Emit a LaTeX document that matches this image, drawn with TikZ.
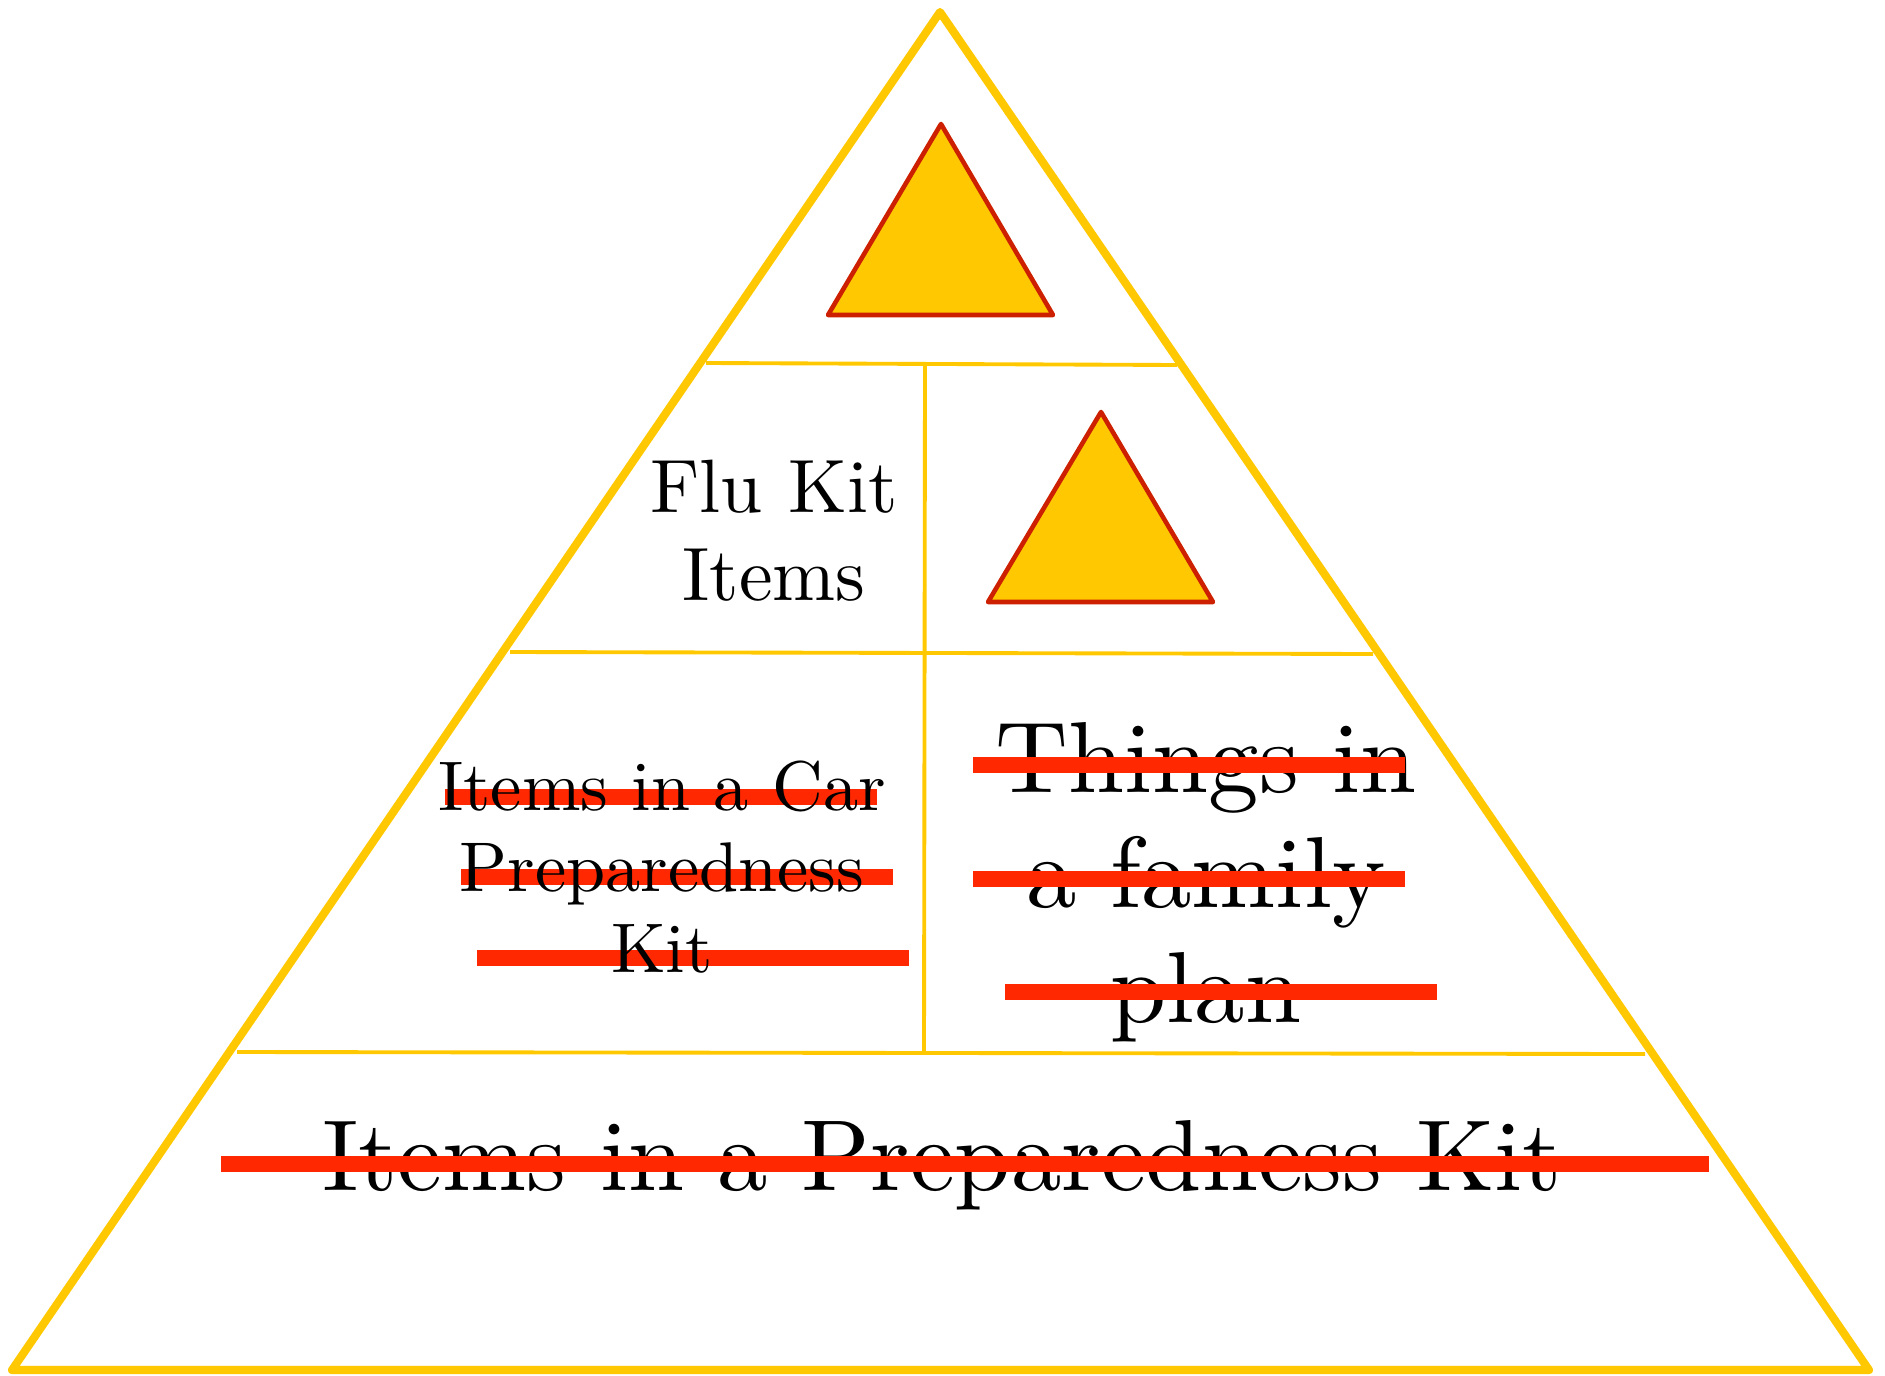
\documentclass[tikz,border=0pt]{standalone}
\usepackage{fontspec}
\setmainfont{lmroman10-regular.otf}
\definecolor{pyryellow}{RGB}{255,200,0}
\definecolor{warnred}{RGB}{204,32,0}
\definecolor{strikered}{RGB}{255,40,0}
\tikzset{
  pyramid/.style={draw=pyryellow, line width=2.3pt, line join=round},
  divider/.style={draw=pyryellow, line width=1.1pt},
  warning/.style={fill=pyryellow, draw=warnred, line width=1.3pt, line join=round},
  strikebar/.style={draw=strikered, line width=4.5pt},
  tierlabel/.style={align=center, inner sep=0pt, anchor=base}
}
\begin{document}
\begin{tikzpicture}[x=0.01cm, y=-0.01cm]
\useasboundingbox (0,0) rectangle (1885,1376);
% --- outer pyramid ---
\coordinate (apex) at (940,12);
\coordinate (baseL) at (12,1370);
\coordinate (baseR) at (1869,1370);
\draw[pyramid] (apex) -- (baseL) -- (baseR) -- cycle;

    % --- tiers ---
    \draw[divider] (706,363) -- (1177,365);
    \draw[divider] (510,652) -- (1373,654);
    \draw[divider] (237,1052) -- (1645,1054);
    \draw[divider] (925,365) -- (924,1052);

    % --- warning triangles ---
    \draw[warning] (941,124) -- (1053,315) -- (828,315) -- cycle;
    \draw[warning] (1101,412) -- (1213,602) -- (988,602) -- cycle;

    % --- bars behind the car kit text ---
    \foreach \xa/\xb/\y in {445/877/797, 461/893/877, 477/909/958} {
        \draw[strikebar] (\xa,\y) -- (\xb,\y);
    }

    % --- labels (base = last line) ---
    \node[tierlabel, font=\fontsize{21.5}{24.8}\selectfont] (flu) at (774,600) {Flu Kit\\Items};
    \node[tierlabel, font=\fontsize{20}{23}\selectfont] (car) at (662,972) {Items in a Car\\Preparedness\\Kit};
    \node[tierlabel, font=\fontsize{28.7}{32.7}\selectfont] (family) at (1206,1022) {Things in\\a family\\plan};
    \node[tierlabel, font=\fontsize{28.7}{32.7}\selectfont] (kit) at (942,1190) {Items in a Preparedness Kit};

    % --- bars over the other texts ---
    \foreach \xa/\xb/\y in {973/1405/765, 973/1405/879, 1005/1437/992, 221/1709/1164} {
        \draw[strikebar] (\xa,\y) -- (\xb,\y);
    }

\end{tikzpicture}
\end{document}
